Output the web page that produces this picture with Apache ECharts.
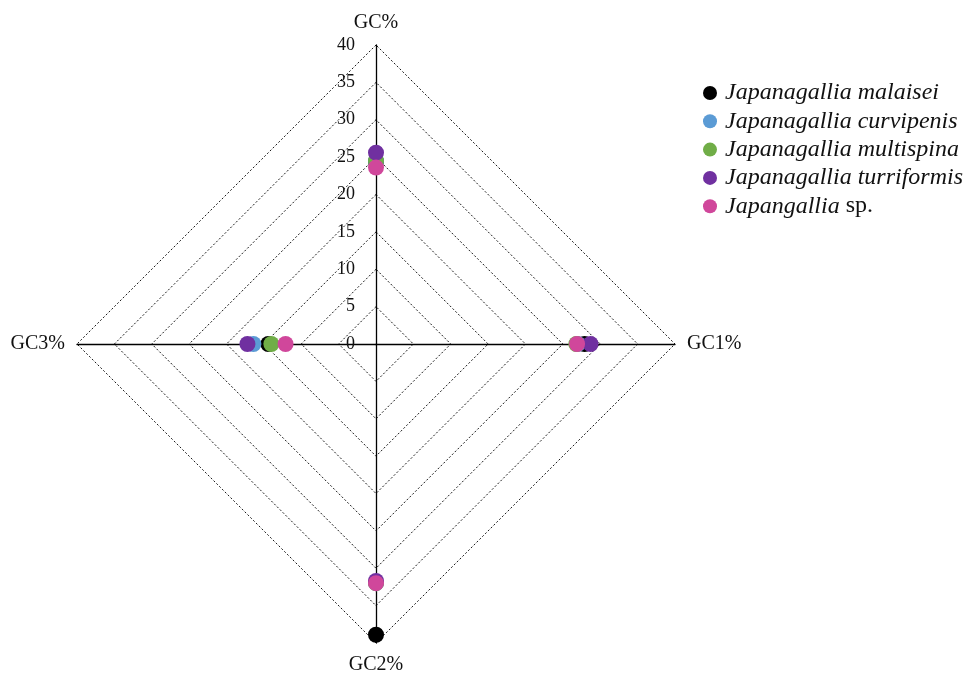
<!DOCTYPE html>
<html>
<head>
<meta charset="utf-8">
<script src="https://cdn.jsdelivr.net/npm/echarts@6/dist/echarts.min.js"></script>
<style>
  html, body { margin: 0; padding: 0; background: #ffffff; }
  #chart { width: 975px; height: 677px; }
</style>
</head>
<body>
<div id="chart"></div>
<script>
// Radar axes, listed counter-clockwise from the top
const indicatorNames = ['GC%', 'GC3%', 'GC2%', 'GC1%'];
const axisMax = 40;

// Species and their values per axis (GC%, GC3%, GC2%, GC1%)
const speciesNames = [
  'Japanagallia malaisei',
  'Japanagallia curvipenis',
  'Japanagallia multispina',
  'Japanagallia turriformis',
  'Japangallia sp.'
];
const malaisei    = [24.4, 14.4, 38.9, 27.9];
const curvipenis  = [24.5, 16.4, 32.0, 27.0];
const multispina  = [24.5, 14.0, 32.0, 26.8];
const turriformis = [25.6, 17.2, 31.7, 28.7];
const spUnnamed   = [23.6, 12.1, 32.0, 26.9];
const speciesValues = [malaisei, curvipenis, multispina, turriformis, spUnnamed];
const speciesColors = ['#000000', '#5B9BD5', '#70AD47', '#7030A0', '#D0479B'];

const serif = '"Liberation Serif", "DejaVu Serif", serif';

const chart = echarts.init(document.getElementById('chart'), null, { renderer: 'canvas' });

const series = speciesNames.map((name, i) => ({
  type: 'radar',
  name: name,
  symbol: 'circle',
  symbolSize: 16,
  itemStyle: { color: speciesColors[i] },
  lineStyle: { opacity: 0, width: 0 },
  areaStyle: null,
  emphasis: { disabled: true },
  silent: true,
  z: 2 + i,
  data: [{ value: speciesValues[i], name: name }]
}));

chart.setOption({
  animation: false,
  backgroundColor: '#ffffff',
  legend: {
    orient: 'vertical',
    left: 698,
    top: 76,
    icon: 'circle',
    itemWidth: 14,
    itemHeight: 14,
    itemGap: 4.3,
    selectedMode: false,
    data: speciesNames,
    formatter: function (name) {
      if (name.endsWith(' sp.')) {
        return '{i|' + name.slice(0, -4) + '} {n|sp.}';
      }
      return '{i|' + name + '}';
    },
    textStyle: {
      fontFamily: serif,
      fontSize: 24,
      color: '#111111',
      rich: {
        i: { fontFamily: serif, fontSize: 24, fontStyle: 'italic', color: '#111111', padding: [0, 0, 0, 3] },
        n: { fontFamily: serif, fontSize: 24, color: '#111111' }
      }
    }
  },
  radar: {
    center: [376, 344],
    radius: 299,
    shape: 'polygon',
    startAngle: 90,
    splitNumber: 8,
    nameGap: 12,
    axisName: {
      color: '#111111',
      fontFamily: serif,
      fontSize: 20
    },
    indicator: indicatorNames.map((n, i) => ({
      name: n,
      min: 0,
      max: axisMax,
      axisLabel: i === 0 ? {
        show: true,
        fontFamily: serif,
        fontSize: 18,
        color: '#111111',
        margin: 21
      } : { show: false }
    })),
    axisLine: { show: true, lineStyle: { color: '#000000', width: 1.3 } },
    axisTick: { show: false },
    axisLabel: { show: false },
    splitLine: { show: true, lineStyle: { color: '#1a1a1a', width: 1, type: [2, 2] } },
    splitArea: { show: false }
  },
  series: series
});
</script>
</body>
</html>
